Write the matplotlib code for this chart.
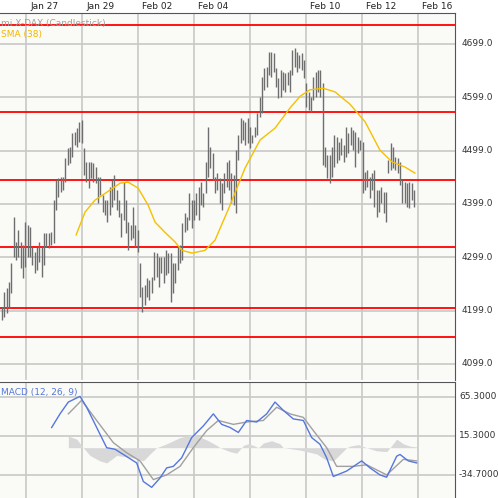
import numpy as np
import matplotlib
matplotlib.use("Agg")
import matplotlib.pyplot as plt

# ---- data (trading-day axis, 0 = Jan 27) ----
tick_days = [0, 2, 4, 6, 8, 10, 12, 14]
tick_labels = ["Jan 27", "Jan 29", "Feb 02", "Feb 04", "", "Feb 10", "Feb 12", "Feb 16"]
price_ticks = [4099.0, 4199.0, 4299.0, 4399.0, 4499.0, 4599.0, 4699.0]
red_levels = [4735, 4571, 4444, 4318, 4204, 4149]

highs = [4206,4234,4241,4252,4288,4374,4327,4350,4327,4322,4365,4359,4356,4318,4309,4318,4327,4318,4344,4344,
         4344,4346,4406,4444,4448,4449,4449,4485,4504,4506,4532,4534,4541,4553,4556,4504,4478,4478,4478,4476,
         4468,4449,4449,4416,4406,4406,4431,4444,4453,4425,4406,4382,4440,4406,4365,4359,4393,4359,4350,4288,
         4243,4247,4260,4256,4262,4309,4307,4299,4299,4299,4312,4307,4307,4288,4288,4318,4322,4363,4382,4374,
         4419,4406,4406,4419,4431,
         4440,4419,4478,4543,4506,4494,4449,4457,4448,4438,4457,4478,4481,4457,4453,4500,4528,4560,4556,4553,
         4560,4543,4528,4543,4569,4600,4637,4654,4656,4684,4684,4682,4654,4635,4650,4646,4645,4646,4650,4688,
         4691,4684,4678,4682,4669,4626,4609,4600,4637,4646,4650,4650,4626,4506,4491,4491,4506,4528,4524,4515,
         4523,4509,4543,4532,4543,4538,4534,4524,4519,4515,4459,4463,4449,4457,4463,4425,4425,4431,4421,4421,
         4481,4513,4506,4487,4485,4478,4444,4440,4438,4440,4438,4425]
lows = [4181,4187,4194,4204,4232,4299,4294,4299,4279,4260,4281,4299,4299,4284,4269,4275,4290,4262,4284,4318,
        4316,4322,4326,4388,4412,4421,4425,4440,4472,4476,4487,4509,4506,4515,4513,4453,4440,4429,4448,4440,
        4438,4401,4416,4384,4378,4365,4378,4393,4406,4388,4374,4337,4369,4344,4312,4331,4335,4318,4309,4224,
        4196,4209,4224,4219,4232,4256,4262,4243,4269,4251,4266,4269,4215,4232,4251,4275,4288,4294,4346,4350,
        4369,4354,4369,4378,4369,
        4397,4393,4419,4449,4466,4444,4419,4425,4401,4388,4419,4431,4425,4401,4397,4382,4481,4513,4519,4509,
        4513,4504,4513,4524,4528,4562,4569,4613,4618,4641,4637,4646,4618,4598,4600,4613,4609,4622,4609,4641,
        4656,4646,4654,4650,4635,4581,4575,4571,4594,4600,4609,4600,4472,4468,4448,4438,4449,4468,4476,4481,
        4491,4478,4487,4494,4509,4500,4468,4494,4500,4419,4425,4431,4410,4425,4393,4374,4384,4401,4382,4365,
        4457,4463,4466,4463,4457,4434,4401,4401,4393,4391,4406,4393]

sma_days = [1.79,2.11,2.46,3.0,3.36,3.64,4.0,4.36,4.61,4.96,5.32,5.57,5.93,6.39,6.75,7.29,7.82,8.36,8.89,9.43,
            9.79,10.14,10.61,11.04,11.57,12.11,12.64,13.07,13.54,13.89]
sma_vals = [4341,4384,4406,4425,4438,4440,4429,4397,4365,4346,4328,4312,4307,4312,4331,4397,4466,4519,4541,4579,
            4601,4613,4616,4609,4586,4553,4500,4478,4468,4457]

macd_zx = [155,180,205,240,260,290,320,345,370,410,430,455,480,500,520,545,575,610,640,665,690,715,740,770,800,
           825,850,880,910,935,960,980,1000,1040,1085,1110,1140,1160,1190,1200,1225,1250]
macd_vals = [26,43.5,58.7,66,52,26,0,-2,-8.7,-19.6,-43.5,-51,-39,-26,-24,-13,13,28,43.5,30,26,19.6,35,33,43.5,
             58.7,48,37,35,13,4.4,-13,-37,-30,-17,-26,-35,-38,-11,-8.7,-17,-19.6]
sig_zx = [205,245,290,340,380,420,460,500,540,580,620,655,700,740,790,830,870,910,940,980,1010,1060,1100,1160,1210,1250]
sig_vals = [43.5,61,35,6.5,-6.5,-17,-41,-35,-24,0,22,35,30,33,35,52,43.5,39,22,0,-24,-24,-22,-35,-15,-17]
hist_zx = [205,230,250,270,300,320,350,400,430,450,470,500,540,580,620,650,660,690,710,725,730,745,760,775,790,
           815,840,850,900,950,975,1000,1040,1050,1075,1100,1130,1160,1170,1190,1210,1230,1250]
hist_vals = [15,11,0,-10,-17,-19.6,-10,-13,-17,-8,0,5,13,17,10,3,0,-5,-7,0,3,5,3,0,6,9,5,0,-3,-8,-15,-17,0,2,4,
             0,-4,-5,0,11,5,2,1]

def zx_to_day(zx):
    return (np.asarray(zx) / 3.0 - 26) / 28.0

W = H = 498
fig = plt.figure(figsize=(4.98, 4.98), dpi=100, facecolor="white")
bg = "#fafaf7"
grid_c = "#c8c8c8"
axis_c = "#555555"
x0, x1 = -26 / 28, (455 - 26) / 28

ax = fig.add_axes([0, 1 - 380 / H, 455 / W, 367 / H], facecolor=bg)
ax.set_xlim(x0, x1)
ax.set_ylim(4069, 4757)
for d in tick_days:
    ax.axvline(d, color=grid_c, lw=1.2, zorder=0)
for p in price_ticks:
    ax.axhline(p, color=grid_c, lw=1.2, zorder=0)
for r in red_levels:
    ax.axhline(r, color="#ff0000", lw=1.3, zorder=1)
n = len(highs)
bx = np.linspace(zx_to_day(6), zx_to_day(1242), n)
ax.vlines(bx, lows, highs, color="#6e6e6e", lw=1.0, zorder=2)
ax.plot(sma_days, sma_vals, color="#f5c000", lw=1.0, zorder=3)
ax.set_xticks([]); ax.set_yticks([])
for s in ["left", "bottom"]:
    ax.spines[s].set_visible(False)
ax.spines["top"].set_color(axis_c)
ax.spines["right"].set_color(axis_c)
ax.text(0.003, 0.983, "mi X-DAX (Candlestick)", transform=ax.transAxes, fontsize=6.5,
        color="#a0a0a0", va="top")
ax.text(0.003, 0.953, "SMA (38)", transform=ax.transAxes, fontsize=6.5, color="#f0b800", va="top")
for p in price_ticks:
    yfig = (p - 4069) / (4757 - 4069) * 367 / H + (1 - 380 / H)
    fig.text(462 / W, yfig, f"{p:.1f}", fontsize=6.5, color="#333333", va="center")
for d, lab in zip(tick_days, tick_labels):
    xf = (26 + 28 * d + 4) / W
    fig.text(xf, 1 - 6.5 / H, lab, fontsize=6.5, color="#222222", va="center")

ax2 = fig.add_axes([0, 0, 455 / W, 116 / H], facecolor=bg)
ax2.set_xlim(x0, x1)
ax2.set_ylim(-64.7, 84.5)
for d in tick_days:
    ax2.axvline(d, color=grid_c, lw=1.2, zorder=0)
for v in [65.3, 15.3, -34.7]:
    ax2.axhline(v, color=grid_c, lw=1.2, zorder=0)
hd = zx_to_day(hist_zx)
ax2.fill_between(hd, 0, hist_vals, color="#d8d8d8", lw=0, zorder=1)
ax2.plot(zx_to_day(sig_zx), sig_vals, color="#a0a0a0", lw=1.0, zorder=2)
ax2.plot(zx_to_day(macd_zx), macd_vals, color="#5577dd", lw=1.0, zorder=3)
ax2.set_xticks([]); ax2.set_yticks([])
for s in ["left", "bottom"]:
    ax2.spines[s].set_visible(False)
ax2.spines["top"].set_color(axis_c)
ax2.spines["right"].set_color(axis_c)
ax2.text(0.003, 0.95, "MACD (12, 26, 9)", transform=ax2.transAxes, fontsize=6.5, color="#5577dd", va="top")
for v in [65.3, 15.3, -34.7]:
    yfig = (v + 64.7) / (84.5 + 64.7) * 116 / H
    fig.text(459 / W, yfig, f"{v:.4f}", fontsize=6.5, color="#333333", va="center")

fig.savefig("out.png", dpi=100, facecolor="white")
